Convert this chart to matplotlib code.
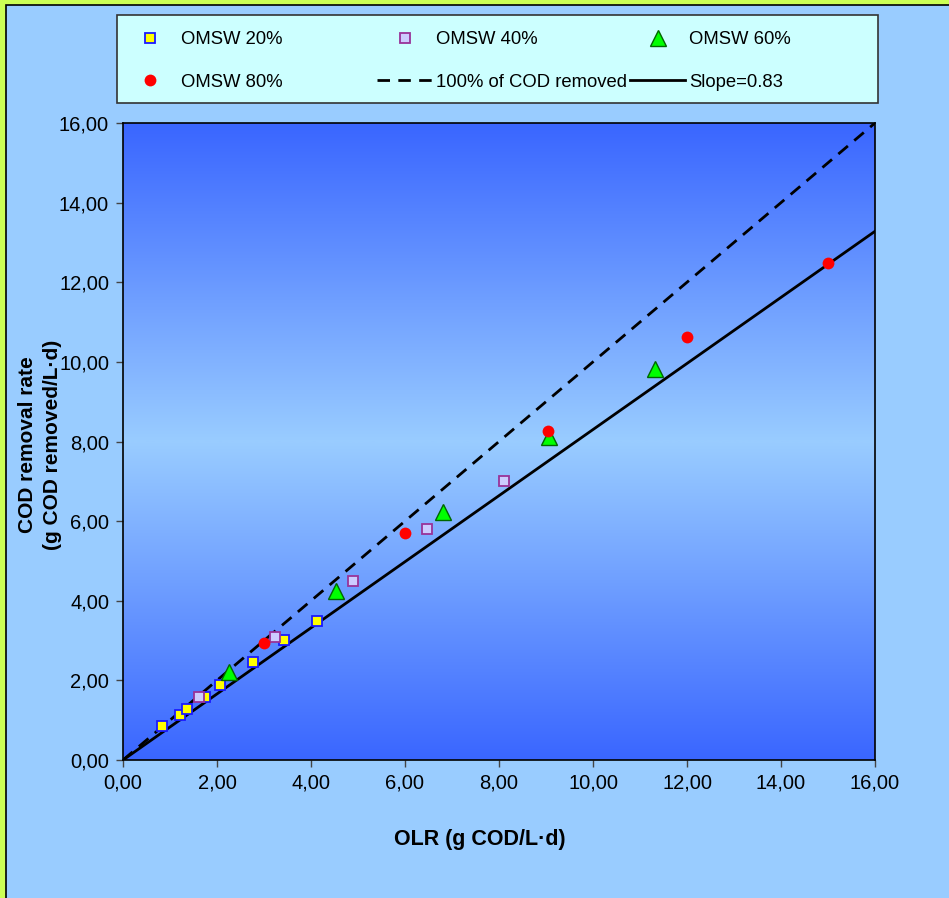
import numpy as np
import matplotlib.pyplot as plt
from matplotlib.colors import LinearSegmentedColormap
from matplotlib.patches import Rectangle
from matplotlib.ticker import FuncFormatter, MultipleLocator

plt.rcParams['font.family'] = ['Liberation Sans', 'DejaVu Sans']

# datos
olr_20 = [0.84, 1.21, 1.36, 1.74, 2.06, 2.76, 3.43, 4.13]
rate_20 = [0.86, 1.14, 1.29, 1.57, 1.88, 2.45, 3.01, 3.50]
olr_40 = [1.61, 3.24, 4.89, 6.47, 8.11]
rate_40 = [1.58, 3.08, 4.50, 5.79, 7.01]
olr_60 = [2.26, 4.53, 6.81, 9.06, 11.31]
rate_60 = [2.20, 4.25, 6.22, 8.11, 9.82]
olr_80 = [3.00, 6.01, 9.05, 11.99, 15.00]
rate_80 = [2.94, 5.69, 8.27, 10.63, 12.49]
ideal_x = [0, 16]
ideal_y = [0, 16]
fit_x = [0, 16]
fit_y = [0, 13.28]

W, H = 949, 898
fig = plt.figure(figsize=(W / 100, H / 100), dpi=100)
fig.patch.set_facecolor('#CCFF55')
fig.patches.append(Rectangle((6 / W, -0.02), 1.05, 1 - 5 / H + 0.02,
                             transform=fig.transFigure, facecolor='#99CCFF',
                             edgecolor='black', lw=1.2, zorder=-2))

# caja de la leyenda
fig.patches.append(Rectangle((117 / W, 1 - 103 / H), 761 / W, 88 / H,
                             transform=fig.transFigure, facecolor='#CCFFFF',
                             edgecolor='#333333', lw=1.2, zorder=-1))

ax = fig.add_axes([123 / W, 138 / H, 752 / W, 637 / H])

# degradado del fondo
t = np.linspace(0, 1, 256)
g = 1 - np.abs(t - 0.5) * 2
cmap = LinearSegmentedColormap.from_list('bg', ['#3A66FF', '#99CCFF'])
ax.imshow(g[:, None], cmap=cmap, extent=[0, 16, 0, 16], aspect='auto',
          origin='lower', zorder=0, interpolation='bilinear')

l_ideal, = ax.plot(ideal_x, ideal_y, color='black', lw=2, ls=(0, (4.5, 3)),
                   label='100% of COD removed', zorder=2)
l_fit, = ax.plot(fit_x, fit_y, color='black', lw=2, label='Slope=0.83', zorder=2)

s20, = ax.plot(olr_20, rate_20, ls='none', marker='s', ms=7.5, mfc='#FFFF00',
               mec='#1A1AFF', mew=1.3, label='OMSW 20%', zorder=3)
s40, = ax.plot(olr_40, rate_40, ls='none', marker='s', ms=7.5, mfc='#CCCCFF',
               mec='#993399', mew=1.3, label='OMSW 40%', zorder=3)
s60, = ax.plot(olr_60, rate_60, ls='none', marker='^', ms=11, mfc='#00FF00',
               mec='#006600', mew=1.0, label='OMSW 60%', zorder=3)
s80, = ax.plot(olr_80, rate_80, ls='none', marker='o', ms=8.5, mfc='#FF0000',
               mec='#FF0000', mew=0, label='OMSW 80%', zorder=4)

ax.set_xlim(0, 16)
ax.set_ylim(0, 16)
ax.xaxis.set_major_locator(MultipleLocator(2))
ax.yaxis.set_major_locator(MultipleLocator(2))
fmt = FuncFormatter(lambda v, p: f'{v:.2f}'.replace('.', ','))
ax.xaxis.set_major_formatter(fmt)
ax.yaxis.set_major_formatter(fmt)
ax.tick_params(direction='out', length=5, width=1, color='#444444',
               labelsize=14.5, pad=5)
for sp in ax.spines.values():
    sp.set_linewidth(1.2)

fig.text(480 / W, 1 - 840 / H, 'OLR (g COD/L·d)', ha='center', va='center',
         fontsize=15.5, fontweight='bold')
fig.text(40 / W, 1 - 445 / H, 'COD removal rate\n(g COD removed/L·d)',
         ha='center', va='center', rotation=90, fontsize=15,
         fontweight='bold', linespacing=1.45)

# leyenda en tres columnas
cols = [([s20, s80], 122), ([s40, l_ideal], 377), ([s60, l_fit], 630)]
for hs, x0 in cols:
    fig.legend(handles=hs, loc='upper left', bbox_to_anchor=(x0 / W, 1 - 31 / H),
               frameon=False, fontsize=13.3, handlelength=3.0, handletextpad=0.2,
               borderpad=0, labelspacing=1.4, borderaxespad=0)

fig.savefig('out.png', dpi=100, facecolor=fig.get_facecolor())
